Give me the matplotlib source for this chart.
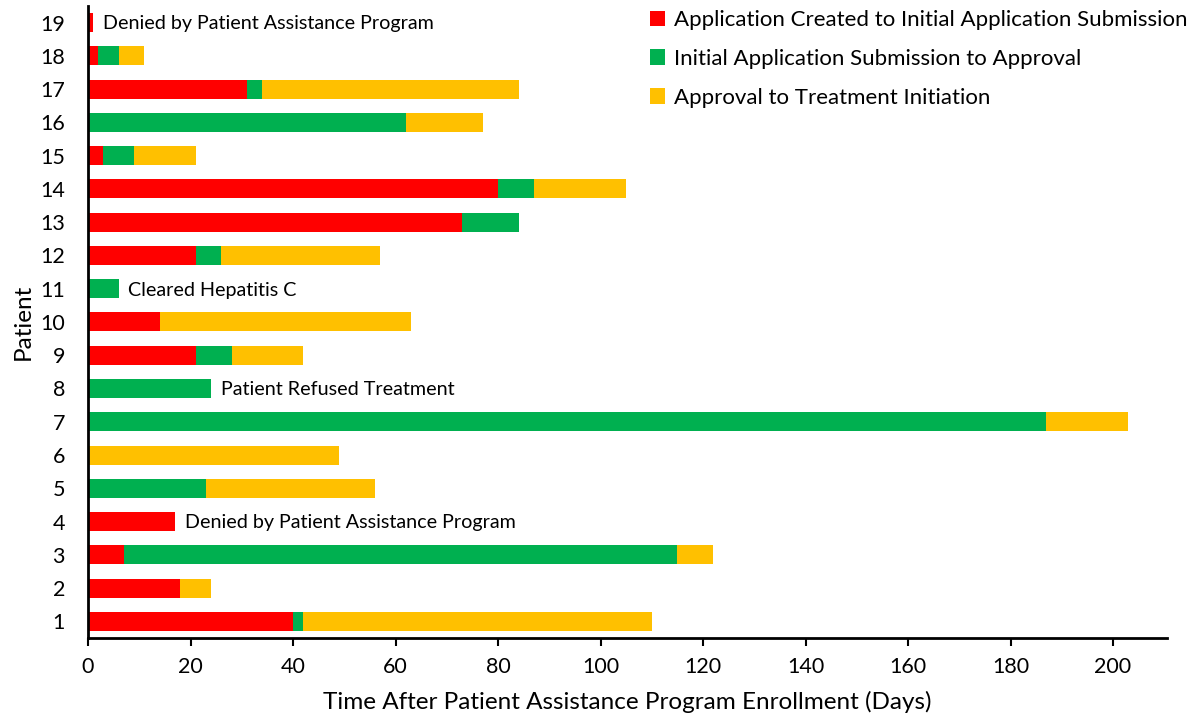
import matplotlib.pyplot as plt
import numpy as np

# Time spent in each stage of the patient assistance program, per patient

plt.rcParams['font.family'] = ['Lato', 'DejaVu Sans']

patients = list(range(1, 20))
# days
createdToSubmission = [40, 18, 7, 17, 0, 0, 0, 0, 21, 14, 0, 21, 73, 80, 3, 0, 31, 2, 1]
submissionToApproval = [2, 0, 108, 0, 23, 0, 187, 24, 7, 0, 6, 5, 11, 7, 6, 62, 3, 4, 0]
approvalToTreatment = [68, 6, 7, 0, 33, 49, 16, 0, 14, 49, 0, 31, 0, 18, 12, 15, 50, 5, 0]

seriesNames = ['Application Created to Initial Application Submission',
               'Initial Application Submission to Approval',
               'Approval to Treatment Initiation']
seriesColors = ['#FF0000', '#00B050', '#FFC000']

notes = {19: 'Denied by Patient Assistance Program',
         11: 'Cleared Hepatitis C',
         8: 'Patient Refused Treatment',
         4: 'Denied by Patient Assistance Program'}

fig = plt.figure(figsize=(11.96, 7.24), dpi=100)
ax = fig.add_axes([0.0736, 0.1188, 0.902, 0.873])

y = np.array(patients)
left = np.zeros(len(patients))
for vals, name, col in zip([createdToSubmission, submissionToApproval, approvalToTreatment],
                           seriesNames, seriesColors):
    ax.barh(y, vals, left=left, height=0.57, color=col, label=name)
    left = left + np.array(vals)

for p, txt in notes.items():
    ax.annotate(txt, xy=(left[p - 1], p), xytext=(7, -1), textcoords='offset points',
                va='center', ha='left', fontsize=14.2)

ax.set_xlim(0, 210.5)
ax.set_ylim(0.5, 19.5)
ax.set_xticks(range(0, 201, 20))
ax.set_yticks(patients)
ax.tick_params(axis='y', length=0, labelsize=15.5, pad=16.5)
ax.tick_params(axis='x', length=6, width=1.5, labelsize=15.5, pad=8)
for side in ['top', 'right']:
    ax.spines[side].set_visible(False)
for side in ['left', 'bottom']:
    ax.spines[side].set_linewidth(2)

ax.set_xlabel('Time After Patient Assistance Program Enrollment (Days)', fontsize=17.5, labelpad=10)
ax.set_ylabel('Patient', fontsize=17.5, labelpad=5)

ax.legend(loc='upper right', bbox_to_anchor=(1.038, 1.025), frameon=False, fontsize=16,
          handlelength=0.7, handleheight=0.7, handletextpad=0.4, labelspacing=0.85)

plt.savefig('out.png')
